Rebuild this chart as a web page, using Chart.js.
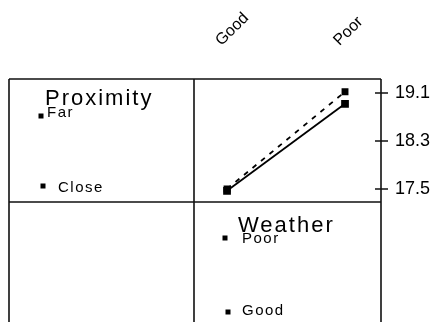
<!DOCTYPE html>
<html>
<head>
<meta charset="utf-8">
<script src="https://cdn.jsdelivr.net/npm/chart.js@4/dist/chart.umd.min.js"></script>
<style>
  html, body { margin: 0; padding: 0; background: #fff; }
  #wrap { width: 433px; height: 322px; }
</style>
</head>
<body>
<div id="wrap"><canvas id="interaction" width="433" height="322"></canvas></div>
<script>
// interaction plot: mean response by Weather, one line per Proximity level
const weatherLevels = ['Good', 'Poor'];
const proximityLevels = ['Far', 'Close'];
const farMeans = [17.50, 19.12];
const closeMeans = [17.47, 18.92];
const yTicks = [17.5, 18.3, 19.1];

const FONT = '"Liberation Sans", Arial, sans-serif';

const toPoints = vals => vals.map((v, i) => ({ x: i, y: v }));

// frame of the matrix, "+" ticks on the right axis and the level legends
const framePlugin = {
    id: 'frame',
    afterDraw(chart) {
        const ctx = chart.ctx;
        const a = chart.chartArea;
        const yScale = chart.scales.y;
        const outerLeft = 9;
        const bottom = chart.height;

        ctx.save();
        ctx.strokeStyle = '#111';
        ctx.lineWidth = 1.6;
        ctx.beginPath();
        ctx.moveTo(outerLeft, a.top); ctx.lineTo(a.right, a.top);
        ctx.moveTo(outerLeft, a.bottom); ctx.lineTo(a.right, a.bottom);
        [outerLeft, a.left, a.right].forEach(x => {
            ctx.moveTo(x, a.top);
            ctx.lineTo(x, bottom);
        });
        yTicks.forEach(t => {
            const py = yScale.getPixelForValue(t);
            ctx.moveTo(a.right - 6, py);
            ctx.lineTo(a.right + 7, py);
        });
        ctx.stroke();

        ctx.fillStyle = '#000';
        ctx.textBaseline = 'alphabetic';
        ctx.textAlign = 'left';

        const title = (txt, x, y) => {
            ctx.font = '22px ' + FONT;
            ctx.letterSpacing = '2px';
            ctx.fillText(txt, x, y);
        };
        const level = (txt, mx, my, tx, ty) => {
            ctx.fillRect(mx - 2.5, my - 2.5, 5, 5);
            ctx.font = '15px ' + FONT;
            ctx.letterSpacing = '1.5px';
            ctx.fillText(txt, tx, ty);
        };

        title('Proximity', 45, 105);
        level(proximityLevels[0], 41, 116, 47, 117);
        level(proximityLevels[1], 43, 186, 58, 192);

        title('Weather', 238, 232);
        level(weatherLevels[1], 225, 238, 242, 243);
        level(weatherLevels[0], 228, 312, 242, 315);
        ctx.restore();
    }
};

new Chart(document.getElementById('interaction'), {
    type: 'line',
    data: {
        datasets: [
            {
                label: proximityLevels[0],
                data: toPoints(farMeans),
                borderColor: '#000',
                backgroundColor: '#000',
                borderWidth: 1.8,
                borderDash: [5, 6],
                pointStyle: 'rect',
                pointRadius: 3.6,
                tension: 0
            },
            {
                label: proximityLevels[1],
                data: toPoints(closeMeans),
                borderColor: '#000',
                backgroundColor: '#000',
                borderWidth: 1.8,
                pointStyle: 'rect',
                pointRadius: 4.2,
                tension: 0
            }
        ]
    },
    options: {
        responsive: false,
        animation: false,
        layout: { padding: { left: 194, right: 0, top: 0, bottom: 120 } },
        plugins: {
            legend: { display: false },
            tooltip: { enabled: false }
        },
        scales: {
            x: {
                type: 'linear',
                position: 'top',
                min: -0.28,
                max: 1.305,
                afterBuildTicks: s => { s.ticks = weatherLevels.map((_, i) => ({ value: i })); },
                afterFit: s => { s.height = 79; },
                grid: { display: false, drawTicks: false },
                border: { display: false },
                ticks: {
                    autoSkip: false,
                    minRotation: 45,
                    maxRotation: 45,
                    padding: 29,
                    labelOffset: 5,
                    color: '#000',
                    font: { family: FONT, size: 16 },
                    callback: v => weatherLevels[v]
                }
            },
            y: {
                position: 'right',
                min: 17.283,
                max: 19.333,
                afterBuildTicks: s => { s.ticks = yTicks.map(v => ({ value: v })); },
                afterFit: s => { s.width = 52; },
                grid: { display: false, drawTicks: false },
                border: { display: false },
                ticks: {
                    padding: 14,
                    color: '#000',
                    font: { family: FONT, size: 18 },
                    callback: v => v.toFixed(1)
                }
            }
        }
    },
    plugins: [framePlugin]
});
</script>
</body>
</html>
